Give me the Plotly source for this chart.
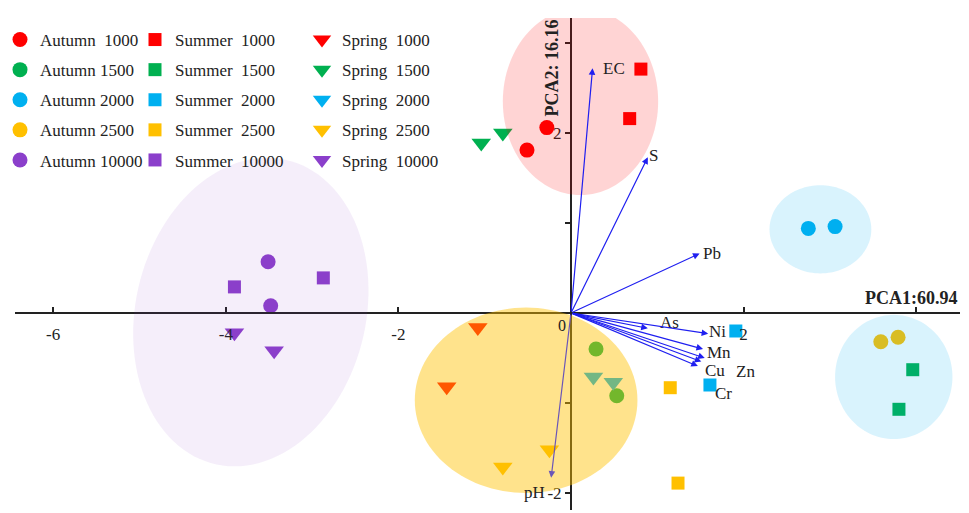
import numpy as np
import plotly.graph_objects as go

# ---------------- data ----------------
seasons = ["Autumn", "Summer", "Spring"]
levels = ["1000", "1500", "2000", "2500", "10000"]
level_colors = ["#FF0000", "#00B050", "#00B0F0", "#FFC000", "#8B3FCB"]
season_symbols = ["circle", "square", "triangle-down"]
season_sizes = [15, 13, 17]

# scores (PCA1, PCA2), two samples per group
autumn_x = {"1000": [-0.28, -0.51], "1500": [0.29, 0.53], "2000": [2.75, 3.06],
            "2500": [3.59, 3.79], "10000": [-3.51, -3.48]}
autumn_y = {"1000": [2.06, 1.81], "1500": [-0.40, -0.92], "2000": [0.94, 0.96],
            "2500": [-0.32, -0.27], "10000": [0.57, 0.08]}
summer_x = {"1000": [0.81, 0.68], "1500": [3.96, 3.80], "2000": [1.91, 1.61],
            "2500": [1.15, 1.24], "10000": [-3.90, -2.87]}
summer_y = {"1000": [2.71, 2.16], "1500": [-0.63, -1.07], "2000": [-0.20, -0.80],
            "2500": [-0.83, -1.89], "10000": [0.29, 0.39]}
spring_x = {"1000": [-1.08, -1.44], "1500": [-0.79, -1.04], "2000": [0.26, 0.49],
            "2500": [-0.25, -0.79], "10000": [-3.90, -3.44]}
spring_y = {"1000": [-0.16, -0.82], "1500": [2.00, 1.89], "2000": [-0.71, -0.77],
            "2500": [-1.52, -1.71], "10000": [-0.22, -0.42]}

# loadings
load_names = ["EC", "S", "Pb", "As", "Ni", "Mn", "Zn", "Cu", "Cr", "pH"]
load_x = [0.25, 0.89, 1.49, 0.89, 1.59, 1.53, 1.55, 1.51, 1.47, -0.23]
load_y = [2.72, 1.73, 0.66, -0.17, -0.23, -0.40, -0.50, -0.54, -0.59, -1.83]

x_tickvals = [-6, -4, -2, 2, 4]
x_ticktext = ["-6", "-4", "-2", "2", ""]
y_tickvals = [-2, -1, 1, 2, 3]
y_ticktext = ["-2", "", "", "2", ""]
pc1_label = "PCA1:60.94"
pc2_label = "PCA2: 16.16"

# ---------------- styles / layout ----------------
OFF = 8                      # page body margin in the browser
W, H = 969 - OFF, 513 - OFF
SERIF = "Liberation Serif, Times New Roman, serif"
xdom = [(15 - OFF) / W, (960 - OFF) / W]
ydom = [1 - (510 - OFF) / H, 1 - (18 - OFF) / H]
xr = [(15 - 571) / 86.3, (960 - 571) / 86.3]
yr = [(313 - 510) / 90.0, (313 - 18) / 90.0]

label_shift = {"EC": (21, 0), "S": (6, 2), "Pb": (12, 0), "As": (22, 6), "Ni": (9, 2),
               "Mn": (16, -3), "Zn": (41, -13), "Cu": (14, -9), "Cr": (26, -27),
               "pH": (-17, -15)}
arrow_color = {"pH": "#6A55B8"}

# ellipses: (cx, cy, a, b, angle_deg, color, opacity)
ellipses = [
    (0.11, 2.35, 0.90, 1.04, 0, "#FF0000", 0.17),
    (-3.71, 0.01, 1.33, 1.74, 15.5, "#8B3FCB", 0.09),
    (-0.52, -0.97, 1.29, 1.03, 0, "#FFC000", 0.45),
    (2.89, 0.93, 0.59, 0.49, 0, "#00B0F0", 0.15),
    (3.74, -0.71, 0.68, 0.69, 0, "#00B0F0", 0.15),
]

fig = go.Figure()

season_data = [(autumn_x, autumn_y), (summer_x, summer_y), (spring_x, spring_y)]
legend_ids = ["legend", "legend2", "legend3"]
for si, season in enumerate(seasons):
    dx, dy = season_data[si]
    for li, lev in enumerate(levels):
        sp = "\u00a0\u00a0" if lev == "1000" or season != "Autumn" else "\u00a0"
        fig.add_trace(go.Scatter(
            x=dx[lev], y=dy[lev], mode="markers",
            name=f"{season}{sp}{lev}",
            legend=legend_ids[si],
            legendgroup=f"{season}{lev}",
            marker=dict(symbol=season_symbols[si], size=season_sizes[si],
                        color=level_colors[li], line=dict(width=0)),
            hoverinfo="skip",
        ))

# ellipse shapes
t = np.linspace(0, 2 * np.pi, 121)
for cx, cy, a, b, ang, col, op in ellipses:
    phi = np.deg2rad(ang)
    u = a * np.cos(t)
    v = b * np.sin(t)
    ex = cx + u * np.cos(phi) + v * np.sin(phi)
    ey = cy - u * np.sin(phi) + v * np.cos(phi)
    path = "M " + " L ".join(f"{px:.4f},{py:.4f}" for px, py in zip(ex, ey)) + " Z"
    fig.add_shape(type="path", path=path, xref="x", yref="y",
                  fillcolor=col, opacity=op, line=dict(width=0), layer="above")

# loading arrows and labels
for n, lx, ly in zip(load_names, load_x, load_y):
    col = arrow_color.get(n, "#1F1FF0")
    fig.add_annotation(x=lx, y=ly, ax=0, ay=0, xref="x", yref="y", axref="x", ayref="y",
                       text="", showarrow=True, arrowhead=2, arrowsize=1.1,
                       arrowwidth=1.2, arrowcolor=col, standoff=0)
    sx, sy = label_shift[n]
    fig.add_annotation(x=lx, y=ly, xref="x", yref="y", text=n, showarrow=False,
                       xshift=sx, yshift=sy, xanchor="center", yanchor="middle",
                       font=dict(family=SERIF, size=17, color="#222222"))

# axis titles and the zero label
fig.add_annotation(x=xr[1], y=0, xref="x", yref="y", text=f"<b>{pc1_label}</b>",
                   showarrow=False, xanchor="right", yanchor="bottom", yshift=3,
                   font=dict(family=SERIF, size=18, color="#222222"))
fig.add_annotation(x=0, y=yr[1], xref="x", yref="y", text=f"<b>{pc2_label}</b>",
                   showarrow=False, xanchor="right", yanchor="top", xshift=-8,
                   textangle=-90, font=dict(family=SERIF, size=18, color="#222222"))
fig.add_annotation(x=0, y=0, xref="x", yref="y", text="0", showarrow=False,
                   xanchor="right", yanchor="top", xshift=-3, yshift=-2,
                   font=dict(family=SERIF, size=16, color="#222222"))

xpos = ydom[0] + (0 - yr[0]) / (yr[1] - yr[0]) * (ydom[1] - ydom[0])
ypos = xdom[0] + (0 - xr[0]) / (xr[1] - xr[0]) * (xdom[1] - xdom[0])

fig.update_layout(
    width=W, height=H,
    margin=dict(l=0, r=0, t=0, b=0, autoexpand=False),
    paper_bgcolor="white", plot_bgcolor="white",
    xaxis=dict(domain=xdom, range=xr, anchor="free", position=xpos,
               showline=True, linecolor="#222222", linewidth=2,
               showgrid=False, zeroline=False, automargin=False,
               ticks="inside", ticklen=5, tickwidth=1.5, tickcolor="#222222",
               tickvals=x_tickvals, ticktext=x_ticktext, ticklabelstandoff=6,
               tickfont=dict(family=SERIF, size=17, color="#222222")),
    yaxis=dict(domain=ydom, range=yr, anchor="free", position=ypos,
               showline=True, linecolor="#222222", linewidth=2,
               showgrid=False, zeroline=False, automargin=False,
               ticks="outside", ticklen=5, tickwidth=1.5, tickcolor="#222222",
               tickvals=y_tickvals, ticktext=y_ticktext,
               tickfont=dict(family=SERIF, size=17, color="#222222")),
    showlegend=True,
)

legend_x = [-8 / W, 127 / W, 294 / W]
for lid, lx in zip(legend_ids, legend_x):
    fig.update_layout({lid: dict(x=lx, y=1 - 14 / H, xanchor="left", yanchor="top",
                                 bgcolor="rgba(0,0,0,0)", borderwidth=0,
                                 tracegroupgap=5, itemclick=False,
                                 font=dict(family=SERIF, size=17, color="#222222"))})

fig.write_html("out.html")
